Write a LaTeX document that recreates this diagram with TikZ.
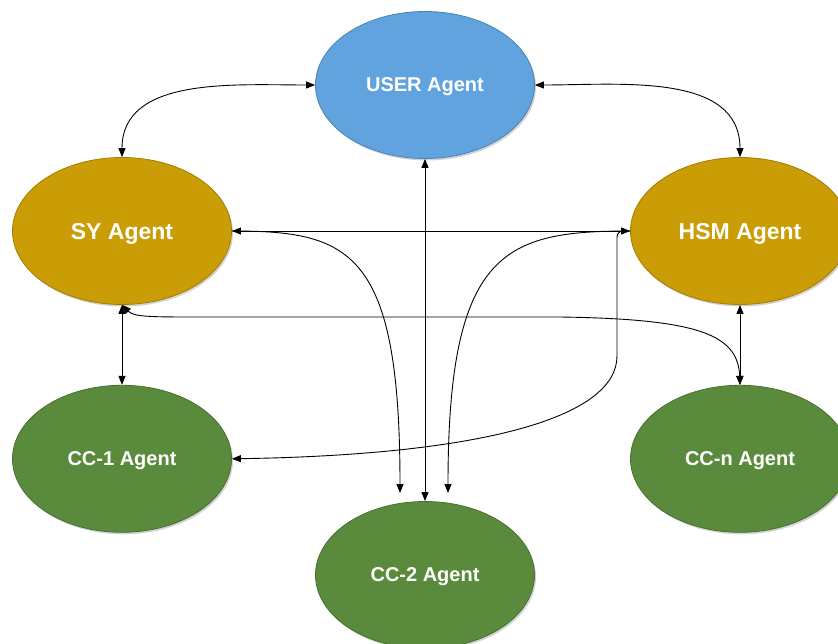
\documentclass[tikz,border=0pt]{standalone}
\usepackage{fontspec}
\setmainfont{Liberation Sans}
\usepackage{tikz}
\usetikzlibrary{positioning,shapes.geometric,arrows.meta,shadows}

\definecolor{userblue}{RGB}{96,163,222}
\definecolor{symgold}{RGB}{202,156,6}
\definecolor{ccgreen}{RGB}{90,139,60}

\begin{document}
\begin{tikzpicture}[x=1pt,y=-1pt,>={Triangle[length=9pt,width=7pt]},line width=0.9pt]
	\tikzstyle{agent}=[ellipse,minimum width=219pt,minimum height=147pt,inner sep=0pt,text depth=0pt,text=white,font=\bfseries\fontsize{20}{24}\selectfont,line width=0.8pt,drop shadow={shadow xshift=1.5pt,shadow yshift=-2pt,opacity=0.35}]
	\tikzstyle{big}=[font=\bfseries\fontsize{23}{27}\selectfont]
	\useasboundingbox (0,0) rectangle (838,644);
		\node[agent, fill=userblue, draw=userblue!80!black] (user) at (425,85) {USER Agent};
		\node[agent, big, fill=symgold, draw=symgold!80!black] (sy) at (122,231) {SY Agent};
		\node[agent, big, fill=symgold, draw=symgold!80!black] (hsm) at (740,231) {HSM Agent};
		\node[agent, fill=ccgreen, draw=ccgreen!80!black, below=80pt of sy] (cc1) {CC-1 Agent};
		\node[agent, fill=ccgreen, draw=ccgreen!80!black, below=80pt of hsm] (ccn) {CC-n Agent};
		\node[agent, fill=ccgreen, draw=ccgreen!80!black] (cc2) at (425,575) {CC-2 Agent};
		\coordinate (cc2a) at (400,493);
		\coordinate (cc2b) at (448,493);
			% user links
			\draw[<->] (sy.north) to[out=90,in=180] (user.west);
			\draw[<->] (hsm.north) to[out=90,in=0] (user.east);
			\draw[<->] (user.south) -- (cc2.north);
			% middle row
			\draw[<->] (sy.east) -- (hsm.west);
			\draw[->] (sy.east) .. controls (350,231) and (400,250) .. (cc2a);
			\draw[->] (hsm.west) .. controls (505,231) and (448,250) .. (cc2b);
			\draw[->, rounded corners=6pt] (hsm.west) -| (617,350) [sharp corners] .. controls (617,418) and (480,455) .. (cc1.east);
			% lower links
			\draw[<->] (sy.south) -- (cc1.north);
			\draw[<->] (hsm.south) -- (ccn.north);
			\draw[<->] (sy.south) .. controls (134,317) and (150,317) .. (200,317) -- (560,317) .. controls (700,319) and (738,335) .. (ccn.north);
\end{tikzpicture}
\end{document}
